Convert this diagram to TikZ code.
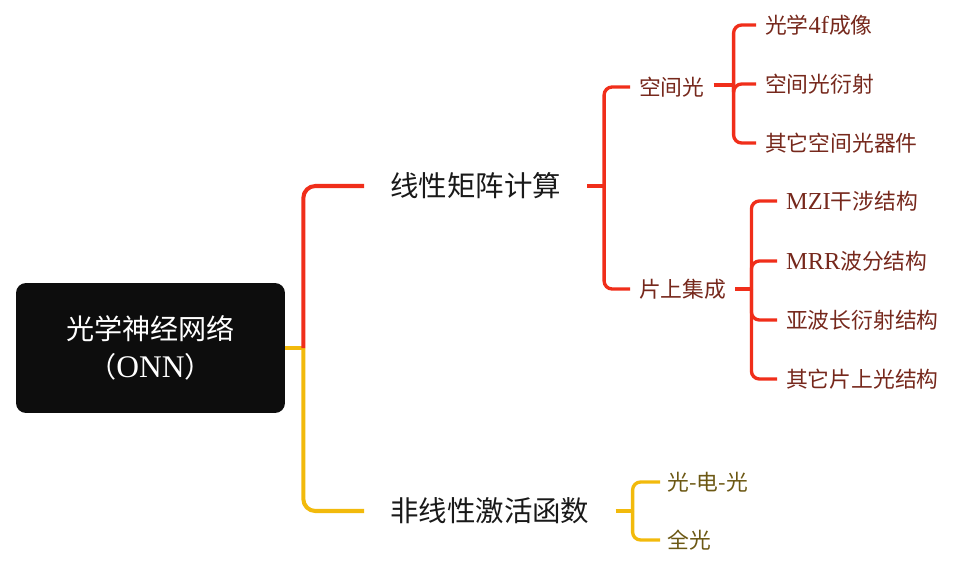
\documentclass[tikz,border=0pt]{standalone}
\usepackage{fontspec}
\setmainfont{Noto Sans CJK SC}
\newfontfamily\romfont[Scale=1.12]{Liberation Serif}
\usetikzlibrary{positioning,calc}
\definecolor{RootFill}{RGB}{13,13,13}
\definecolor{BranchRed}{RGB}{240,46,26}
\definecolor{BranchYellow}{RGB}{242,186,12}
\definecolor{LeafRed}{RGB}{118,40,28}
\definecolor{LeafYellow}{RGB}{108,88,20}

\begin{document}
\begin{tikzpicture}[x=0.02cm,y=-0.02cm,
    root/.style={rectangle,rounded corners=0.2cm,fill=RootFill,text=white,
                 minimum width=5.38cm,minimum height=2.6cm,align=center,
                 font=\fontsize{16}{21.5}\selectfont},
    topic/.style={anchor=west,inner xsep=14.7pt,inner ysep=2pt,
                  font=\fontsize{16.2}{19}\selectfont,text=black!90},
    subred/.style={anchor=west,inner xsep=5pt,inner ysep=2pt,
                   font=\fontsize{12.4}{15}\selectfont,text=LeafRed},
    subyel/.style={anchor=west,inner xsep=4pt,inner ysep=2pt,
                   font=\fontsize{12.4}{15}\selectfont,text=LeafYellow},
    thickred/.style={draw=BranchRed,line width=2.3pt,rounded corners=0.24cm},
    thickyel/.style={draw=BranchYellow,line width=2.3pt,rounded corners=0.24cm},
    thinred/.style={draw=BranchRed,line width=1.9pt,rounded corners=0.16cm},
    thinyel/.style={draw=BranchYellow,line width=1.9pt,rounded corners=0.16cm}
  ]
  \useasboundingbox (0,0) rectangle (960,572);

  % root and main topics
  \node[root] (onn) at (150.5,348) {光学神经网络\\（{\romfont ONN}）};
  \node[topic] (linear) at (364,186) {线性矩阵计算};
  \node[topic] (nonlin) at (364,511) {非线性激活函数};

  % linear branch
  \node[subred] (free) at (630,87) {空间光};
  \node[subred] (chip) at (630,289) {片上集成};
  \node[subred] (fourf) at (756,25) {光学{\romfont 4f}成像};
  \node[subred] (diff) at (756,84) {空间光衍射};
  \node[subred] (otherfree) at (756,143) {其它空间光器件};
  \node[subred] (mzi) at (777,201) {{\romfont MZI}干涉结构};
  \node[subred] (mrr) at (777,261) {{\romfont MRR}波分结构};
  \node[subred] (subwave) at (777,320) {亚波长衍射结构};
  \node[subred] (otherchip) at (777,379) {其它片上光结构};

  % nonlinear branch
  \node[subyel] (oeo) at (660,482) {光-电-光};
  \node[subyel] (allopt) at (660,540) {全光};

  % junctions
  \coordinate (rootj) at ($(onn.east)+(18,0)$);
  \coordinate (linj) at ($(linear.east)+(17,0)$);
  \coordinate (freej) at ($(free.east)+(20,-2)$);
  \coordinate (chipj) at ($(chip.east)+(16,0)$);
  \coordinate (nonj) at ($(nonlin.east)+(17,0)$);

  % connectors
  \draw[thickyel] (onn.east) -- (rootj);
  \draw[thickyel] (rootj) |- (nonlin.west);
  \draw[thickred] (rootj) |- (linear.west);

  \draw[thinred] (linear.east) -- (linj);
  \draw[thinred] (linj) |- (free.west);
  \draw[thinred] (linj) |- (chip.west);

  \draw[thinred] (free.east |- freej) -- (freej);
  \foreach \leaf in {fourf,diff,otherfree}
    \draw[thinred] (freej) |- (\leaf.west);

  \draw[thinred] (chip.east) -- (chipj);
  \foreach \leaf in {mzi,mrr,subwave,otherchip}
    \draw[thinred] (chipj) |- (\leaf.west);

  \draw[thinyel] (nonlin.east) -- (nonj);
  \draw[thinyel] (nonj) |- (oeo.west);
  \draw[thinyel] (nonj) |- (allopt.west);
\end{tikzpicture}
\end{document}
